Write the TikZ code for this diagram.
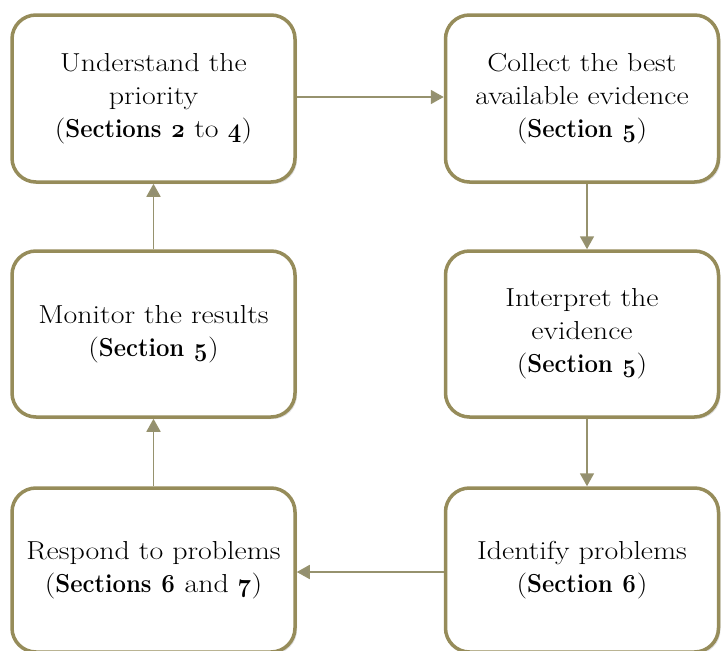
\documentclass[tikz,border=0pt]{standalone}
\usepackage{fontspec}
\setmainfont{Latin Modern Roman}[Numbers=OldStyle,FakeStretch=1.15,BoldFeatures={FakeStretch=0.92}]
\usetikzlibrary{arrows.meta,shadows}
\definecolor{boxborder}{RGB}{150,140,90}
\definecolor{arrowcol}{RGB}{150,146,110}
\begin{document}
\begin{tikzpicture}[x=1pt,y=-1pt,
  stage/.style={draw=boxborder,line width=3.5pt,rounded corners=24pt,fill=white,
    minimum width=283pt,align=center,font=\fontsize{26}{33}\selectfont,
    drop shadow={shadow xshift=2pt,shadow yshift=-2pt,opacity=0.25}},
  flow/.style={draw=arrowcol,line width=1.8pt,-{Triangle[length=13pt,width=14pt,fill=arrowcol!85!gray]}}]
\useasboundingbox (0,0) rectangle (721,651);
\node[stage,minimum height=167pt] (a) at (153.5,98.5) {Understand the\\priority\\(\textbf{Sections 2} to \textbf{4})};
\node[stage,minimum height=167pt,minimum width=273pt] (b) at (582,98.5) {Collect the best\\available evidence\\(\textbf{Section 5})};
\node[stage,minimum height=166pt] (c) at (153.5,334) {Monitor the results\\(\textbf{Section 5})};
\node[stage,minimum height=166pt,minimum width=273pt] (d) at (582,334) {Interpret the\\evidence\\(\textbf{Section 5})};
\node[stage,minimum height=164pt] (e) at (153.5,570) {Respond to problems\\(\textbf{Sections 6} and \textbf{7})};
\node[stage,minimum height=164pt,minimum width=273pt] (f) at (582,570) {Identify problems\\(\textbf{Section 6})};
\draw[flow] (a.east |- 0,97) -- (b.west |- 0,97);
\draw[flow] (b.south -| 587,0) -- (d.north -| 587,0);
\draw[flow] (d.south -| 587,0) -- (f.north -| 587,0);
\draw[flow] (f.west |- 0,572) -- (e.east |- 0,572);
\draw[flow] (e.north) -- (c.south);
\draw[flow] (c.north) -- (a.south);
\end{tikzpicture}
\end{document}
